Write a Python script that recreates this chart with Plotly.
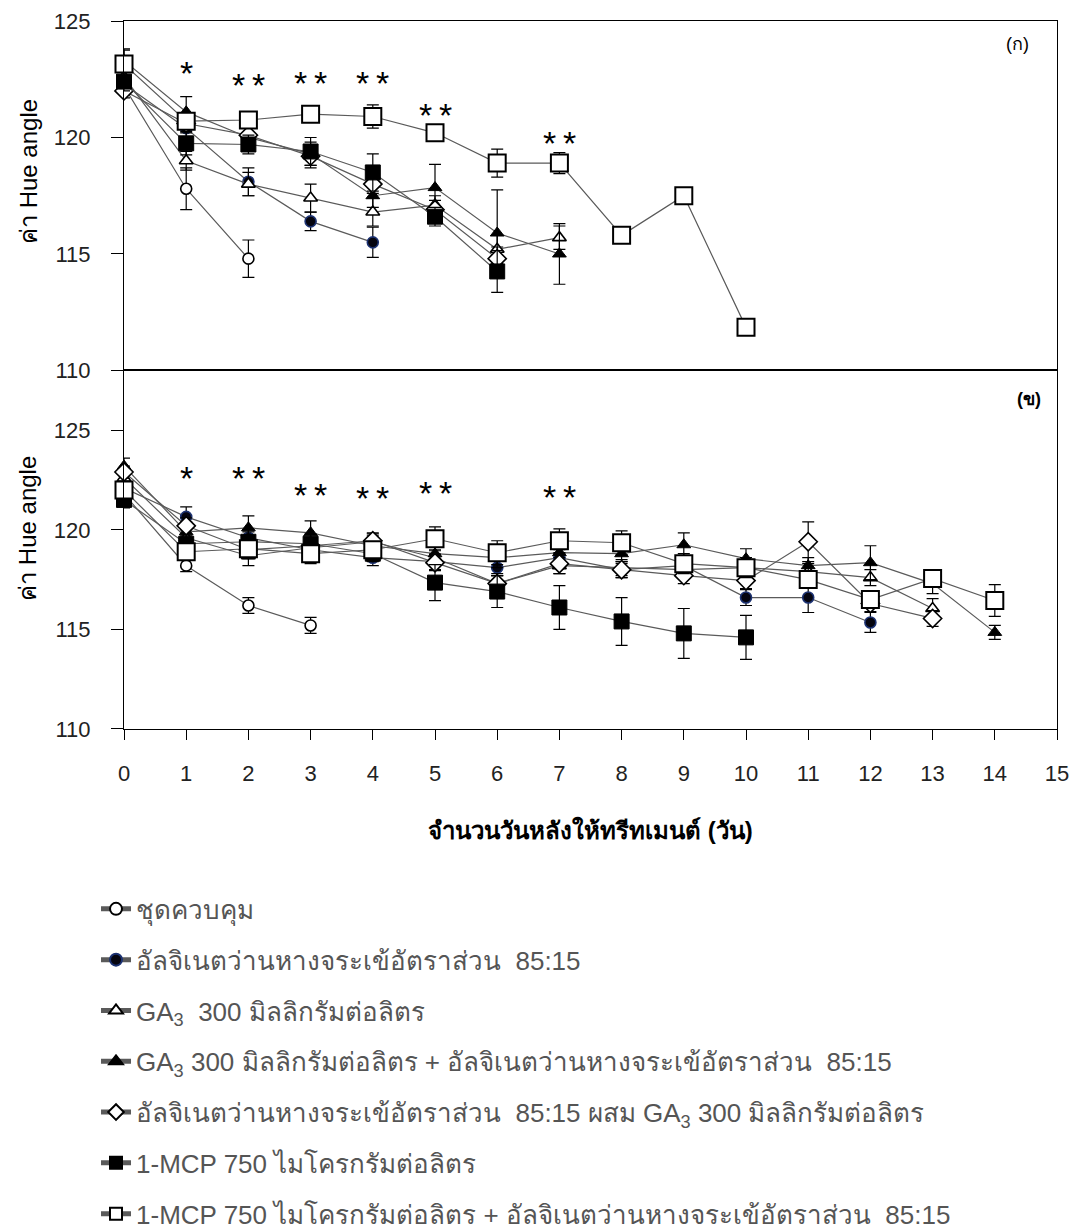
import plotly.graph_objects as go

# ---------------- data ----------------
series_names = [
    "ชุดควบคุม",
    "อัลจิเนตว่านหางจระเข้อัตราส่วน  85:15",
    "GA<sub>3</sub>  300 มิลลิกรัมต่อลิตร",
    "GA<sub>3</sub> 300 มิลลิกรัมต่อลิตร + อัลจิเนตว่านหางจระเข้อัตราส่วน  85:15",
    "อัลจิเนตว่านหางจระเข้อัตราส่วน  85:15 ผสม GA<sub>3</sub> 300 มิลลิกรัมต่อลิตร",
    "1-MCP 750 ไมโครกรัมต่อลิตร",
    "1-MCP 750 ไมโครกรัมต่อลิตร + อัลจิเนตว่านหางจระเข้อัตราส่วน  85:15",
]

# Panel (ก)
a_control = [122.2, 117.8, 114.8]
a_control_err = [0.3, 0.9, 0.8]
a_alg = [122.3, 120.4, 118.1, 116.4, 115.5]
a_alg_err = [0.3, 0.4, 0.6, 0.4, 0.65]
a_ga = [122.6, 119.0, 118.0, 117.4, 116.8, 117.1, 115.2, 115.7]
a_ga_err = [0.3, 0.4, 0.5, 0.6, 0.6, 0.4, 0.6, 0.5]
a_ga_alg = [123.3, 121.1, 120.0, 119.3, 117.5, 117.85, 115.9, 115.0]
a_ga_alg_err = [0.5, 0.65, 0.4, 0.5, 0.5, 1.0, 1.85, 1.3]
a_alg_ga = [122.0, 120.6, 120.1, 119.2, 118.0, 116.9, 114.8]
a_alg_ga_err = [0.3, 0.4, 0.3, 0.5, 0.4, 0.4, 0.5]
a_mcp = [122.4, 119.75, 119.7, 119.4, 118.5, 116.6, 114.25]
a_mcp_err = [0.4, 0.5, 0.4, 0.6, 0.8, 0.4, 0.9]
a_mcp_alg = [123.15, 120.7, 120.75, 121.0, 120.9, 120.2, 118.9, 118.9, 115.8, 117.5, 111.85]
a_mcp_alg_err = [0.6, 0.3, 0.3, 0.2, 0.5, 0.35, 0.6, 0.45, 0, 0, 0]

# Panel (ข)
b_control = [121.8, 118.2, 116.2, 115.2]
b_control_err = [0.3, 0.3, 0.4, 0.4]
b_alg = [122.1, 120.65, 119.6, 119.0, 118.6, 118.4, 118.1, 118.6, 118.0, 118.2, 116.6, 116.6, 115.35]
b_alg_err = [0.3, 0.5, 0.4, 0.4, 0.4, 0.4, 0.4, 0.4, 0.4, 0.4, 0.4, 0.75, 0.5]
b_ga = [122.6, 119.6, 118.7, 119.1, 119.4, 118.6, 117.3, 118.2, 118.1, 118.0, 118.1, 117.9, 117.6, 116.05]
b_ga_err = [0.4, 0.4, 0.5, 0.4, 0.4, 0.4, 0.4, 0.4, 0.4, 0.4, 0.4, 0.4, 0.4, 0.5]
b_ga_alg = [123.2, 119.9, 120.1, 119.85, 119.2, 118.8, 118.6, 118.85, 118.8, 119.25, 118.55, 118.2, 118.35, 117.3, 114.85]
b_ga_alg_err = [0.4, 0.5, 0.6, 0.6, 0.5, 0.5, 0.5, 0.5, 0.5, 0.6, 0.5, 0.4, 0.85, 0.5, 0.35]
b_alg_ga = [122.9, 120.2, 119.0, 119.2, 119.45, 118.35, 117.3, 118.3, 118.0, 117.7, 117.45, 119.4, 116.3, 115.55]
b_alg_ga_err = [0.3, 0.4, 0.4, 0.4, 0.4, 0.4, 0.5, 0.5, 0.4, 0.4, 0.4, 1.0, 0.4, 0.4]
b_mcp = [121.5, 119.3, 119.4, 119.3, 118.8, 117.35, 116.9, 116.1, 115.4, 114.8, 114.6]
b_mcp_err = [0.4, 0.4, 0.5, 0.5, 0.4, 0.9, 0.8, 1.1, 1.2, 1.25, 1.1]
b_mcp_alg = [122.0, 118.9, 119.05, 118.8, 119.0, 119.55, 118.85, 119.45, 119.35, 118.3, 118.1, 117.5, 116.5, 117.55, 116.45]
b_mcp_alg_err = [0.4, 0.4, 0.5, 0.5, 0.4, 0.6, 0.6, 0.6, 0.6, 0.5, 0.5, 0.4, 0.4, 0.4, 0.8]

# significance marks
stars_a_x = [1, 2, 3, 4, 5, 7]
stars_a_y = [122.75, 122.25, 122.35, 122.35, 120.95, 119.75]
stars_a_text = ["*", "*\u2009*", "*\u2009*", "*\u2009*", "*\u2009*", "*\u2009*"]
stars_b_x = [1, 2, 3, 4, 5, 7]
stars_b_y = [122.6, 122.6, 121.75, 121.6, 121.85, 121.65]
stars_b_text = ["*", "*\u2009*", "*\u2009*", "*\u2009*", "*\u2009*", "*\u2009*"]

x_ticks = list(range(0, 16))
y_ticks = [110, 115, 120, 125]

# ---------------- styles ----------------
styles = [
    dict(symbol="circle", size=11, color="white", line=dict(color="black", width=1.6)),
    dict(symbol="circle", size=11, color="#050510", line=dict(color="#1c3272", width=1.6)),
    dict(symbol="triangle-up", size=12, color="white", line=dict(color="black", width=1.6)),
    dict(symbol="triangle-up", size=12, color="black", line=dict(color="black", width=1)),
    dict(symbol="diamond", size=14, color="white", line=dict(color="black", width=1.6)),
    dict(symbol="square", size=15, color="black", line=dict(color="black", width=1)),
    dict(symbol="square", size=17, color="white", line=dict(color="black", width=2)),
]

panel_a = [(a_control, a_control_err), (a_alg, a_alg_err), (a_ga, a_ga_err),
           (a_ga_alg, a_ga_alg_err), (a_alg_ga, a_alg_ga_err), (a_mcp, a_mcp_err),
           (a_mcp_alg, a_mcp_alg_err)]
panel_b = [(b_control, b_control_err), (b_alg, b_alg_err), (b_ga, b_ga_err),
           (b_ga_alg, b_ga_alg_err), (b_alg_ga, b_alg_ga_err), (b_mcp, b_mcp_err),
           (b_mcp_alg, b_mcp_alg_err)]

fig = go.Figure()

for panel, xa, ya, show in [(panel_a, "x", "y", True), (panel_b, "x2", "y2", False)]:
    for i, (vals, errs) in enumerate(panel):
        fig.add_trace(go.Scatter(
            x=list(range(len(vals))), y=vals,
            mode="lines+markers",
            name=series_names[i],
            legendgroup="g%d" % i,
            showlegend=show,
            xaxis=xa, yaxis=ya,
            cliponaxis=False,
            line=dict(color="#5a5a5a", width=1.2),
            marker=styles[i],
            error_y=dict(type="data", array=errs, visible=True,
                         color="black", thickness=1.2, width=6),
        ))

annotations = []
for xs, ys, ts, xr, yr in [(stars_a_x, stars_a_y, stars_a_text, "x", "y"),
                           (stars_b_x, stars_b_y, stars_b_text, "x2", "y2")]:
    for xv, yv, tv in zip(xs, ys, ts):
        annotations.append(dict(x=xv, y=yv, xref=xr, yref=yr, text=tv, showarrow=False,
                                font=dict(size=34, color="black", family="Liberation Sans, Arial"),
                                xanchor="center", yanchor="middle"))

annotations += [
    dict(x=0.972, y=0.935, xref="x domain", yref="y domain", text="(ก)", showarrow=False,
         font=dict(size=18, color="black"), xanchor="right", yanchor="middle"),
    dict(x=0.985, y=0.92, xref="x2 domain", yref="y2 domain", text="<b>(ข)</b>", showarrow=False,
         font=dict(size=18, color="black"), xanchor="right", yanchor="middle"),
    dict(x=-0.103, y=0.788, xref="paper", yref="paper", text="ค่า Hue angle", textangle=-90,
         showarrow=False, font=dict(size=24, color="black"), xanchor="center", yanchor="middle"),
    dict(x=-0.103, y=0.284, xref="paper", yref="paper", text="ค่า Hue angle", textangle=-90,
         showarrow=False, font=dict(size=24, color="black"), xanchor="center", yanchor="middle"),
    dict(x=0.5, y=-0.143, xref="paper", yref="paper", text="<b>จำนวนวันหลังให้ทรีทเมนต์ (วัน)</b>",
         showarrow=False, font=dict(size=24, color="black"), xanchor="center", yanchor="middle"),
]

axis_common = dict(showgrid=False, zeroline=False, showline=True, linecolor="black",
                   linewidth=1.2, mirror=True)
tickfont = dict(family="Liberation Sans, Arial", size=22, color="#222")

fig.update_layout(
    width=1078, height=1232,
    margin=dict(l=124, r=21, t=21, b=503, autoexpand=False),
    paper_bgcolor="white", plot_bgcolor="white",
    font=dict(family="Liberation Sans, Noto Sans, sans-serif", color="black"),
    xaxis=dict(domain=[0, 1], range=[0, 15], anchor="y", showticklabels=False, ticks="",
               **axis_common),
    yaxis=dict(domain=[0.5064, 1], range=[110, 125], tickvals=y_ticks, ticks="outside",
               ticklen=12, tickcolor="black", tickfont=tickfont, ticklabelstandoff=16,
               anchor="x", **axis_common),
    xaxis2=dict(domain=[0, 1], range=[0, 15], anchor="y2", tickvals=x_ticks, ticks="outside",
                ticklen=10, tickcolor="black", tickfont=tickfont, ticklabelstandoff=14,
                **axis_common),
    yaxis2=dict(domain=[0, 0.5064], range=[110, 128], tickvals=y_ticks, ticks="outside",
                ticklen=12, tickcolor="black", tickfont=tickfont, ticklabelstandoff=16,
                anchor="x2", **axis_common),
    annotations=annotations,
    legend=dict(x=-0.03, y=-0.221, xanchor="left", yanchor="top", orientation="v",
                font=dict(size=26, color="#555"), tracegroupgap=14, itemsizing="constant",
                bgcolor="rgba(0,0,0,0)"),
    showlegend=True,
)

fig.write_html("out.html", config={"displayModeBar": False},
               post_script="document.body.style.margin='0';document.body.style.padding='0';")
